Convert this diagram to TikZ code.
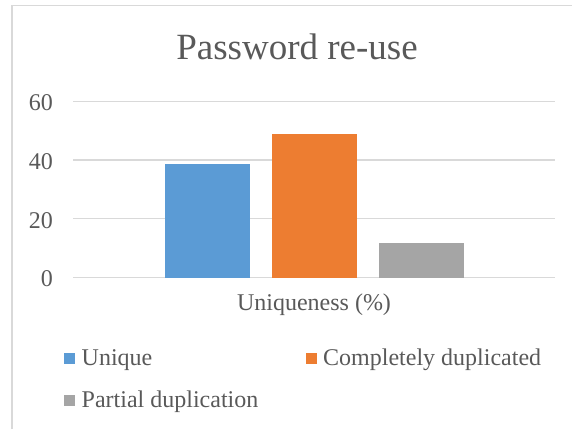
\documentclass[tikz,border=0pt]{standalone}
\usepackage{fontspec}
\setmainfont{Liberation Serif}
\newfontfamily\chartfont{Liberation Serif}
\usetikzlibrary{positioning}
\definecolor{txtgray}{HTML}{595959}
\definecolor{gridgray}{HTML}{D9D9D9}
\definecolor{uniqueblue}{HTML}{5B9BD5}
\definecolor{duporange}{HTML}{ED7D31}
\definecolor{partgray}{HTML}{A5A5A5}
\tikzset{
	lbl/.style={inner sep=0pt, text=txtgray, font=\chartfont\fontsize{24}{28}\selectfont},
	keybox/.style={inner sep=0pt, minimum size=11pt}
}
\begin{document}
\begin{tikzpicture}[x=1pt, y=-1pt]
			\useasboundingbox (0,0) rectangle (572,429);
			%chart frame
			\draw[gridgray, line width=1.2pt] (12,429) -- (12,5.7) -- (572,5.7);
			\node[lbl, anchor=base, font=\chartfont\fontsize{37}{44}\selectfont] (title) at (297,59.3){Password re-use};
			
			%value axis
			\foreach \v in {0, 20, 40, 60}{
				\draw[gridgray, line width=1.2pt] (73.3, 277.7-2.9425*\v)--(554.7, 277.7-2.9425*\v);
				\node[lbl, anchor=east] (ylab\v) at (53, 279-2.9425*\v){\v};
			}
			
			%bars
			\foreach \x/\v/\c in {165/38.6/uniqueblue, 272/48.8/duporange, 379/11.7/partgray}{
				\fill[\c] (\x, 277.7) rectangle ++(84.5, -2.9425*\v);
			}
			\node[lbl, anchor=base] (catlab) at (314, 310){Uniqueness (\%)};
			
			%legend
			\node[keybox, fill=uniqueblue] (keyunique) at (69.5, 358){};
			\node[lbl, anchor=base west] (labunique) at (81.5, 365){Unique};
			\node[keybox, fill=duporange] (keydup) at (311.8, 358){};
			\node[lbl, anchor=base west] (labdup) at (323, 365){Completely duplicated};
			\node[keybox, fill=partgray] (keypart) at (69.5, 400.5){};
			\node[lbl, anchor=base west] (labpart) at (81.5, 407){Partial duplication};
		\end{tikzpicture}
\end{document}
